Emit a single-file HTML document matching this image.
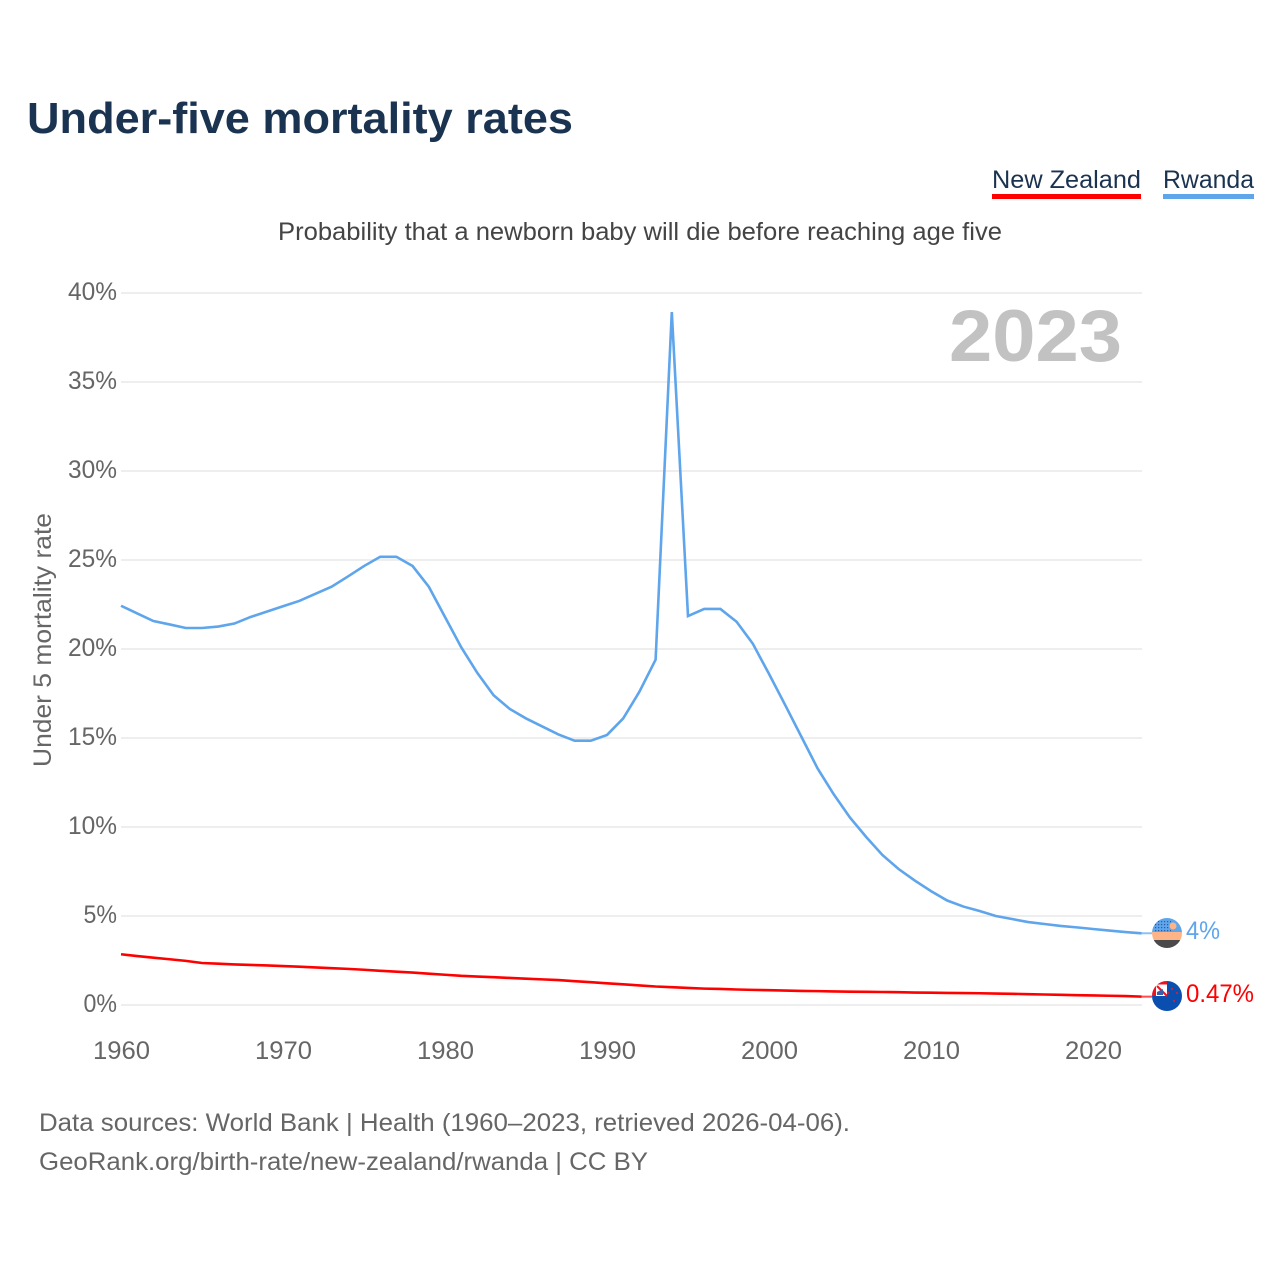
<!DOCTYPE html>
<html>
<head>
<meta charset="utf-8">
<title>Under-five mortality rates</title>
<style>
html,body{margin:0;padding:0;background:#fff;width:1280px;height:1280px;overflow:hidden}
svg{display:block}
text{font-family:"Liberation Sans",sans-serif}
</style>
</head>
<body>
<svg id="chart" width="1280" height="1280" viewBox="0 0 1280 1280" xmlns="http://www.w3.org/2000/svg">
<defs>
<clipPath id="clipR"><circle cx="1167" cy="933" r="15"/></clipPath>
<clipPath id="clipN"><circle cx="1167" cy="996" r="15"/></clipPath>
<pattern id="dots" width="3" height="3" patternUnits="userSpaceOnUse"><rect width="1.2" height="1.2" fill="#2c5a9c"/></pattern>
</defs>
<text x="27" y="133" font-size="44" font-weight="700" fill="#1a3350" textLength="546" lengthAdjust="spacingAndGlyphs">Under-five mortality rates</text>
<g>
<text x="992" y="188" font-size="25" fill="#1a3350" textLength="149" lengthAdjust="spacingAndGlyphs">New Zealand</text>
<rect x="992" y="194" width="149" height="5" fill="#ff0000"/>
</g>
<g>
<text x="1163" y="188" font-size="25" fill="#1a3350" textLength="91" lengthAdjust="spacingAndGlyphs">Rwanda</text>
<rect x="1163" y="194" width="91" height="5" fill="#5ea5ec"/>
</g>
<text x="278" y="240" font-size="25" fill="#444" textLength="724" lengthAdjust="spacingAndGlyphs">Probability that a newborn baby will die before reaching age five</text>
<g id="grid"></g>
<g id="yticks"></g>
<g id="xticks"></g>
<text x="949" y="361" font-size="73" font-weight="700" fill="#c2c2c2" textLength="173" lengthAdjust="spacingAndGlyphs">2023</text>
<text transform="translate(51,767) rotate(-90)" font-size="25" fill="#666" textLength="254" lengthAdjust="spacingAndGlyphs">Under 5 mortality rate</text>
<g id="series"></g>
<g clip-path="url(#clipR)">
<rect x="1152" y="918" width="30" height="15" fill="#5ea5ec"/>
<rect x="1154" y="920" width="17" height="12" fill="url(#dots)"/>
<rect x="1152" y="932" width="30" height="8" fill="#ffb488"/>
<rect x="1152" y="940" width="30" height="8" fill="#4a4a4a"/>
<circle cx="1173" cy="926" r="3.5" fill="#ffb488"/>
</g>
<g clip-path="url(#clipN)">
<rect x="1152" y="981" width="30" height="30" fill="#0a4fb0"/>
<rect x="1152" y="981" width="15" height="15" fill="#ffffff"/>
<path d="M1152 981h15v3.5h-11v11.500h-4z" fill="#f01020"/>
<path d="M1157 986l10 10" stroke="#f01020" stroke-width="2" fill="none"/>
<path d="M1157 992l6-3v6h-6z" fill="#3a5ea8"/>
<circle cx="1172" cy="989" r="1.1" fill="#d02030"/>
<circle cx="1177" cy="993" r="1.1" fill="#d02030"/>
<circle cx="1168" cy="993" r="1.1" fill="#d02030"/>
<circle cx="1174" cy="1001" r="1.1" fill="#d02030"/>
</g>
<text x="1186" y="939" font-size="25" fill="#5ea5ec" textLength="34" lengthAdjust="spacingAndGlyphs">4%</text>
<text x="1186" y="1002" font-size="25" fill="#ff0000" textLength="68" lengthAdjust="spacingAndGlyphs">0.47%</text>
<text x="39" y="1131" font-size="25" fill="#666" textLength="811" lengthAdjust="spacingAndGlyphs">Data sources: World Bank | Health (1960–2023, retrieved 2026-04-06).</text>
<text x="39" y="1170" font-size="25" fill="#666" textLength="609" lengthAdjust="spacingAndGlyphs">GeoRank.org/birth-rate/new-zealand/rwanda | CC BY</text>
</svg>
<script>
const startYear = 1960;
const rwandaValues = [22.43,22.0,21.57,21.38,21.18,21.18,21.26,21.43,21.8,22.1,22.4,22.7,23.1,23.5,24.07,24.66,25.18,25.18,24.66,23.5,21.8,20.1,18.65,17.4,16.63,16.1,15.65,15.2,14.85,14.85,15.17,16.1,17.6,19.4,38.93,21.85,22.25,22.25,21.53,20.3,18.6,16.85,15.07,13.29,11.83,10.53,9.44,8.43,7.64,6.99,6.4,5.87,5.53,5.28,5.0,4.83,4.66,4.55,4.44,4.36,4.27,4.18,4.1,4.03];
const newZealandValues = [2.85,2.75,2.66,2.57,2.48,2.36,2.32,2.28,2.25,2.22,2.19,2.15,2.11,2.07,2.03,1.98,1.92,1.87,1.82,1.76,1.7,1.64,1.6,1.56,1.52,1.48,1.44,1.4,1.34,1.28,1.22,1.16,1.1,1.04,1.0,0.96,0.92,0.9,0.87,0.85,0.83,0.81,0.79,0.78,0.76,0.75,0.74,0.73,0.72,0.7,0.69,0.68,0.67,0.66,0.64,0.63,0.61,0.59,0.57,0.55,0.54,0.52,0.5,0.47];
const yTickValues = [0,5,10,15,20,25,30,35,40];
const xTickYears = [1960,1970,1980,1990,2000,2010,2020];
const lastYear = 2023;
const leaderEndX = 1152;

const NS = 'http://www.w3.org/2000/svg';
function xScale(year){ return 121 + (year - 1960) * 16.2; }
function yScale(pct){ return 1005 - pct * 17.8; }

const grid = document.getElementById('grid');
const yticks = document.getElementById('yticks');
yTickValues.forEach(function(v){
  const line = document.createElementNS(NS,'line');
  
  
  line.setAttribute('x1', 121);
  line.setAttribute('x2', 1142);
  line.setAttribute('y1', yScale(v));
  line.setAttribute('y2', yScale(v));
  line.setAttribute('stroke', '#eeeeee');
  line.setAttribute('stroke-width', 2);
  grid.appendChild(line);
  const t = document.createElementNS(NS,'text');
  
  
  t.setAttribute('x', 117);
  t.setAttribute('y', yScale(v) + 7);
  t.setAttribute('text-anchor', 'end');
  t.setAttribute('font-size', 25);
  t.setAttribute('fill', '#666');
  t.setAttribute('textLength', String(v).length * 15.5 + 18);
  t.setAttribute('lengthAdjust', 'spacingAndGlyphs');
  t.textContent = v + '%';
  yticks.appendChild(t);
});

const xticks = document.getElementById('xticks');
xTickYears.forEach(function(y){
  const t = document.createElementNS(NS,'text');
  
  
  t.setAttribute('x', xScale(y) + 0.5);
  t.setAttribute('y', 1059);
  t.setAttribute('text-anchor', 'middle');
  t.setAttribute('font-size', 25);
  t.setAttribute('fill', '#666');
  t.setAttribute('textLength', 57);
  t.setAttribute('lengthAdjust', 'spacingAndGlyphs');
  t.textContent = y;
  xticks.appendChild(t);
});

function linePoints(values){
  return values.map(function(v,i){
    return xScale(startYear + i).toFixed(2) + ',' + yScale(v).toFixed(2);
  }).join(' ');
}
const series = document.getElementById('series');

const rwandaLine = document.createElementNS(NS,'polyline');


rwandaLine.setAttribute('points', linePoints(rwandaValues));
rwandaLine.setAttribute('fill', 'none');
rwandaLine.setAttribute('stroke', '#5ea5ec');
rwandaLine.setAttribute('stroke-width', 2.6);
series.appendChild(rwandaLine);

const nzLine = document.createElementNS(NS,'polyline');


nzLine.setAttribute('points', linePoints(newZealandValues));
nzLine.setAttribute('fill', 'none');
nzLine.setAttribute('stroke', '#ff0000');
nzLine.setAttribute('stroke-width', 2.6);
series.appendChild(nzLine);

const rwandaLeader = document.createElementNS(NS,'line');


rwandaLeader.setAttribute('x1', xScale(lastYear));
rwandaLeader.setAttribute('x2', leaderEndX);
rwandaLeader.setAttribute('y1', yScale(rwandaValues[rwandaValues.length-1]));
rwandaLeader.setAttribute('y2', yScale(rwandaValues[rwandaValues.length-1]));
rwandaLeader.setAttribute('stroke', '#5ea5ec');
rwandaLeader.setAttribute('stroke-opacity', 0.7);
rwandaLeader.setAttribute('stroke-width', 2);
series.appendChild(rwandaLeader);

const nzLeader = document.createElementNS(NS,'line');


nzLeader.setAttribute('x1', xScale(lastYear));
nzLeader.setAttribute('x2', leaderEndX);
nzLeader.setAttribute('y1', yScale(newZealandValues[newZealandValues.length-1]));
nzLeader.setAttribute('y2', yScale(newZealandValues[newZealandValues.length-1]));
nzLeader.setAttribute('stroke', '#ff0000');
nzLeader.setAttribute('stroke-opacity', 0.7);
nzLeader.setAttribute('stroke-width', 2);
series.appendChild(nzLeader);
</script>
</body>
</html>
